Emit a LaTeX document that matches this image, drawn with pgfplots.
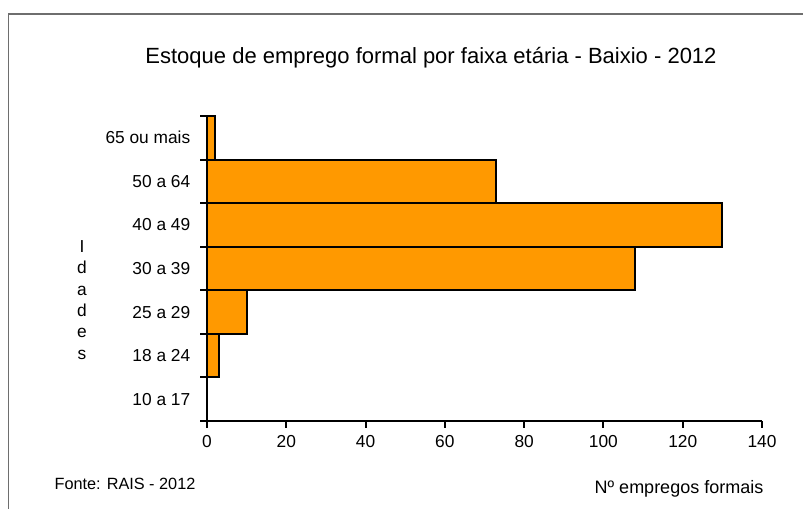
\documentclass[border=0pt]{standalone}
\usepackage{fontspec}
\setmainfont{Liberation Sans}
\usepackage{pgfplots}
\pgfplotsset{compat=1.18}
\definecolor{barorange}{RGB}{255,153,0}
\definecolor{framegray}{RGB}{110,110,110}
\begin{document}
\begin{tikzpicture}
\begin{scope}[x=0.75pt,y=0.75pt]
\path[use as bounding box] (0,0) rectangle (803,509);
\draw[framegray, line width=1.4pt] (8.5,0) -- (8.5,495) -- (803,495);
\node[font=\fontsize{16.5}{19}\selectfont] at (431,451) {Estoque de emprego formal por faixa etária - Baixio - 2012};
\node[font=\fontsize{13}{16}\selectfont, align=center] at (82,209) {I\\d\\a\\d\\e\\s};
\node[font=\fontsize{12.2}{14}\selectfont] at (125,25) {Fonte: RAIS - 2012};
\node[font=\fontsize{13.5}{15}\selectfont] at (679,20) {Nº empregos formais};
\end{scope}
\begin{axis}[
  at={(155.25pt,66pt)}, anchor=south west,
  scale only axis, width=416.25pt, height=228.75pt,
  xmin=0, xmax=140, ymin=-0.5, ymax=6.5,
  axis x line*=bottom, axis y line*=left,
  axis line style={line width=1.5pt, black},
  xtick={0,20,...,140},
  x tick label style={font=\fontsize{13}{15}\selectfont, yshift=-2pt},
  /pgf/number format/assume math mode=true,
  xtick style={line width=1.5pt, black},
  tick align=outside,
  major tick length=5pt,
  ytick={0,...,6},
  yticklabels={10 a 17,18 a 24,25 a 29,30 a 39,40 a 49,50 a 64,65 ou mais},
  y tick label style={font=\fontsize{13}{15}\selectfont, xshift=-4pt},
  ytick style={draw=none},
  extra y ticks={-0.5,0.5,...,6.5},
  extra y tick labels={},
  extra y tick style={ytick style={line width=1.5pt, black, draw=black}, major tick length=5pt, tick align=outside},
  xbar, bar width=1,
  clip=false,
]
\addplot[fill=barorange, draw=black, line width=1.5pt] coordinates {
  (0,0) (3,1) (10,2) (108,3) (130,4) (73,5) (2,6)
};
\end{axis}
\end{tikzpicture}
\end{document}
